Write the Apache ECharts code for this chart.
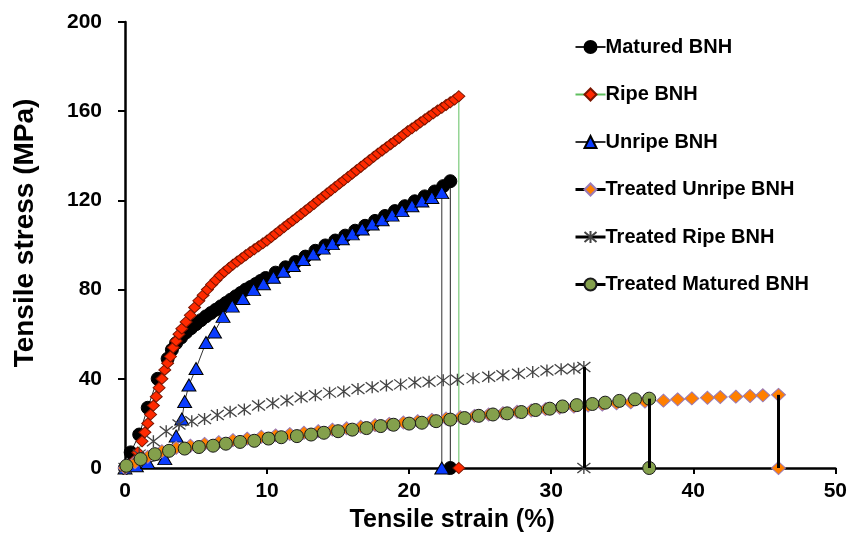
<!DOCTYPE html>
<html>
<head>
<meta charset="utf-8">
<script src="https://cdn.jsdelivr.net/npm/echarts@6/dist/echarts.min.js"></script>
<style>html,body{margin:0;padding:0;background:#fff}#c{width:850px;height:538px}</style>
</head>
<body>
<div id="c"></div>
<script>
const seriesNames = ['Matured BNH','Ripe BNH','Unripe BNH','Treated Unripe BNH','Treated Ripe BNH','Treated Matured BNH'];
const xTicks = [0,10,20,30,40,50];
const yTicks = [0,40,80,120,160,200];

const maturedBNH = [[0,0],[0.4,7],[1.0,15],[1.6,27],[2.3,40],[3.0,49],[3.3,53],[3.6,56],[3.95,58.5],[4.3,60.8],[4.65,62.7],[5.0,64.5],[5.35,66.3],[5.7,68],[6.05,69.5],[6.4,71],[6.75,72.5],[7.1,74],[7.45,75.5],[7.8,77],[8.15,78.5],[8.5,80],[8.85,81.2],[9.2,82.5],[9.55,83.9],[9.9,85.2],[10.6,87.6],[11.3,90],[12.0,92.4],[12.7,94.8],[13.4,97.4],[14.1,99.8],[14.8,102],[15.5,104.2],[16.2,106.4],[16.9,108.6],[17.6,110.8],[18.3,113],[19.0,115.2],[19.7,117.4],[20.4,119.6],[21.1,121.8],[21.8,124],[22.4,126.4],[22.9,128.6],[22.9,0]];

const ripeBNH = [[0,0],[0.3,1],[0.6,3],[0.9,7],[1.2,12],[1.4,16],[1.6,20],[1.8,24],[2.0,28],[2.2,32],[2.4,36],[2.6,40],[2.8,44],[3.0,47],[3.2,50],[3.4,54],[3.6,57],[3.8,60],[4.0,62.5],[4.3,65.5],[4.6,68.5],[4.9,72],[5.2,75],[5.5,77.5],[5.8,80],[6.1,82.3],[6.4,84.3],[6.7,86.3],[7.0,88],[7.3,89.6],[7.6,91.2],[7.9,92.6],[8.2,94],[8.5,95.4],[8.8,96.8],[9.1,98.1],[9.4,99.4],[9.7,100.7],[10.0,102],[10.3,103.5],[10.6,105],[10.9,106.5],[11.2,108],[11.5,109.5],[11.8,110.9],[12.1,112.4],[12.4,113.9],[12.7,115.4],[13.0,116.9],[13.3,118.4],[13.6,120],[13.9,121.5],[14.2,123],[14.5,124.5],[14.8,126],[15.1,127.5],[15.4,129],[15.7,130.5],[16.0,132],[16.3,133.5],[16.6,135],[16.9,136.5],[17.2,138],[17.5,139.5],[17.8,141],[18.1,142.4],[18.4,143.8],[18.7,145.2],[19.0,146.6],[19.3,148],[19.6,149.5],[19.9,151],[20.2,152.3],[20.5,153.6],[20.8,155],[21.1,156.3],[21.4,157.7],[21.7,159],[22.0,160.3],[22.3,161.5],[22.6,162.8],[22.9,164],[23.2,165.2],[23.5,166.7],[23.5,0]];

const unripeBNH = [[0,0],[0.8,1],[1.6,2.5],[2.8,4.2],[3.6,14.3],[4.0,22],[4.2,29.8],[4.5,37.2],[5.0,44.6],[5.7,56.3],[6.3,61],[6.9,68],[7.55,72.6],[8.3,76],[9.05,80],[9.75,82.6],[10.45,85.5],[11.15,88.2],[11.85,90.8],[12.55,93.5],[13.25,96],[13.95,98.6],[14.6,100.6],[15.3,102.8],[16.0,105],[16.7,107.2],[17.4,109.4],[18.1,111.3],[18.8,113.4],[19.5,115.4],[20.2,117.6],[20.9,119.7],[21.6,121.3],[22.3,123.5],[22.3,0]];

const treatedUnripeBNH = [[0,0],[0.7,2.5],[1.6,5],[2.6,7.5],[3.6,9],[4.6,10],[5.6,10.8],[6.6,11.6],[7.6,12.5],[8.6,13.2],[9.6,14],[10.6,14.6],[11.6,15.2],[12.6,15.8],[13.6,16.5],[14.6,17.2],[15.6,17.8],[16.6,18.5],[17.6,19.2],[18.6,19.8],[19.6,20.4],[20.6,21],[21.6,21.6],[22.6,22.2],[23.6,22.8],[24.6,23.4],[25.6,24],[26.6,24.6],[27.6,25.2],[28.6,25.8],[29.6,26.4],[30.6,27],[31.6,27.5],[32.6,28],[33.6,28.5],[34.6,29],[35.6,29.4],[36.6,29.8],[37.9,30.2],[38.9,30.8],[39.9,31.2],[41.0,31.5],[41.9,31.8],[43.0,32],[44.0,32.3],[44.9,32.6],[46.0,32.8],[46.0,0]];

const treatedRipeBNH = [[0,0],[1.0,6],[2.0,12],[2.9,16.5],[3.8,19.5],[4.7,21],[5.6,22],[6.5,23.8],[7.4,25.2],[8.4,26.2],[9.4,28],[10.4,29],[11.4,30.3],[12.4,31.7],[13.4,32.6],[14.4,33.8],[15.4,34.3],[16.4,35.4],[17.4,36.2],[18.4,37],[19.4,37.5],[20.4,38.3],[21.4,38.7],[22.4,39.3],[23.4,39.6],[24.5,40.3],[25.6,40.9],[26.6,41.6],[27.7,42.3],[28.7,43],[29.7,43.7],[30.7,44.3],[31.6,44.6],[32.3,45.3],[32.3,0]];

const treatedMaturedBNH = [[0.1,1],[1.1,4],[2.1,6.2],[3.1,7.7],[4.2,8.7],[5.2,9.4],[6.2,10],[7.1,10.9],[8.1,11.7],[9.1,12.2],[10.1,13.2],[11.0,13.8],[12.1,14.3],[13.1,15],[14.0,15.8],[15.0,16.5],[16.0,17.2],[17.0,17.9],[18.0,18.8],[18.9,19.4],[20.0,19.9],[20.9,20.3],[21.9,21],[22.9,21.7],[23.9,22.4],[24.9,23.4],[25.9,24],[26.9,24.5],[27.9,25.1],[28.9,26],[29.9,26.6],[30.8,27.6],[31.8,28.2],[32.9,28.7],[33.8,29.3],[34.8,30.1],[35.9,30.8],[36.9,31.1],[36.9,0]];

const FONT = 'Liberation Sans, Arial, sans-serif';
const starPath = 'path://M0,0L10,10M10,0L0,10M5,-1L5,11';

function dropLine(data){
  const a = data[data.length-2], b = data[data.length-1];
  return {symbol:'none', silent:true, animation:false, label:{show:false},
    lineStyle:{color:'#000', width:3, type:'solid'},
    emphasis:{disabled:true},
    data:[[{coord:a},{coord:b}]]};
}

const chart = echarts.init(document.getElementById('c'), null, {renderer:'canvas'});
chart.setOption({
  animation:false,
  backgroundColor:'#fff',
  grid:{left:125, right:8, top:22, bottom:64, containLabel:false},
  xAxis:{type:'value', min:0, max:50, interval:10,
    axisLine:{lineStyle:{color:'#000', width:2.5}},
    axisTick:{show:true, length:6, lineStyle:{color:'#000', width:2}},
    splitLine:{show:false},
    axisLabel:{color:'#000', fontFamily:FONT, fontWeight:'bold', fontSize:21, margin:13,
      formatter:v=>xTicks.includes(v)?String(v):''},
    name:'Tensile strain (%)', nameLocation:'middle', nameGap:40,
    nameTextStyle:{color:'#000', fontFamily:FONT, fontWeight:'bold', fontSize:25, padding:[0,56,0,0]}
  },
  yAxis:{type:'value', min:0, max:200, interval:40,
    axisLine:{show:true, lineStyle:{color:'#000', width:2.5}},
    axisTick:{show:true, length:7, lineStyle:{color:'#000', width:2}},
    splitLine:{show:false},
    axisLabel:{color:'#000', fontFamily:FONT, fontWeight:'bold', fontSize:21, margin:23,
      formatter:v=>yTicks.includes(v)?String(v):''},
    name:'Tensile stress (MPa)', nameLocation:'middle', nameGap:86,
    nameTextStyle:{color:'#000', fontFamily:FONT, fontWeight:'bold', fontSize:28, padding:[0,0,0,24]}
  },
  legend:{orient:'vertical', left:569, top:32, itemGap:27.5, itemWidth:30, itemHeight:15,
    textStyle:{color:'#000', fontFamily:FONT, fontWeight:'bold', fontSize:20, padding:[0,0,0,-5]},
    data:[
      {name:seriesNames[0]},
      {name:seriesNames[1]},
      {name:seriesNames[2]},
      {name:seriesNames[3], lineStyle:{color:'#000', width:3, opacity:1}},
      {name:seriesNames[4], lineStyle:{color:'#000', width:3, opacity:1}},
      {name:seriesNames[5], lineStyle:{color:'#000', width:3, opacity:1}}
    ]},
  series:[
    {name:seriesNames[0], type:'line', data:maturedBNH, symbol:'circle', symbolSize:13,
      itemStyle:{color:'#000', borderColor:'#000', borderWidth:1},
      lineStyle:{color:'#222', width:1}},
    {name:seriesNames[1], type:'line', data:ripeBNH, symbol:'diamond', symbolSize:[12,11],
      itemStyle:{color:'#ff2a00', borderColor:'#7a1500', borderWidth:1},
      lineStyle:{color:'#5fbf5f', width:1}},
    {name:seriesNames[2], type:'line', data:unripeBNH, symbol:'triangle', symbolSize:[14,12],
      itemStyle:{color:'#0a3cff', borderColor:'#000', borderWidth:1},
      lineStyle:{color:'#333', width:1}},
    {name:seriesNames[3], type:'line', data:treatedUnripeBNH, symbol:'diamond', symbolSize:[14,13],
      itemStyle:{color:'#ff7f00', borderColor:'#9a7ab5', borderWidth:1},
      lineStyle:{opacity:0}, markLine:dropLine(treatedUnripeBNH)},
    {name:seriesNames[4], type:'line', data:treatedRipeBNH, symbol:starPath, symbolSize:[13,12],
      itemStyle:{color:'rgba(0,0,0,0)', borderColor:'#444', borderWidth:1.3},
      lineStyle:{opacity:0}, markLine:dropLine(treatedRipeBNH)},
    {name:seriesNames[5], type:'line', data:treatedMaturedBNH, symbol:'circle', symbolSize:13,
      itemStyle:{color:'#84a04c', borderColor:'#1a1a1a', borderWidth:1},
      lineStyle:{opacity:0}, markLine:dropLine(treatedMaturedBNH)}
  ]
});
</script>
</body>
</html>
